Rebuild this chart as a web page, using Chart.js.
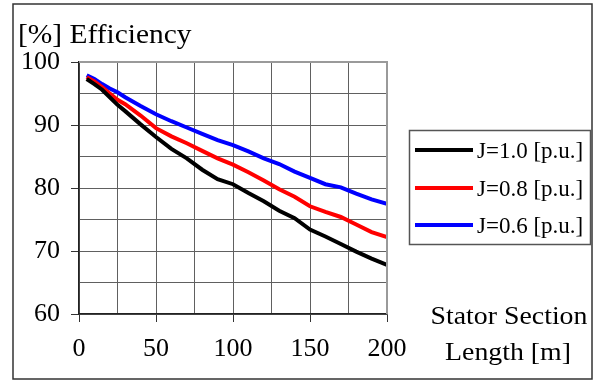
<!DOCTYPE html>
<html>
<head>
<meta charset="utf-8">
<script src="https://cdn.jsdelivr.net/npm/chart.js@4"></script>
<style>
  body { margin: 0; background: #fff; }
  #wrap { width: 595px; height: 381px; }
</style>
</head>
<body>
<div id="wrap"><canvas id="chart" width="595" height="381"></canvas></div>
<script>
// Stator section length [m]
const lengths = [5, 10, 15, 20, 25, 30, 40, 50, 60, 70, 80, 90, 100, 110, 120, 130, 140, 150, 160, 170, 180, 190, 200];

// Efficiency [%] per current density
const effJ10 = [97.3, 96.5, 95.6, 94.4, 93.2, 92.2, 90.1, 88.1, 86.2, 84.7, 82.9, 81.4, 80.6, 79.2, 77.9, 76.4, 75.2, 73.4, 72.3, 71.1, 69.9, 68.8, 67.8];
const effJ08 = [97.6, 96.9, 96.0, 95.0, 94.0, 93.3, 91.5, 89.5, 88.2, 87.1, 85.9, 84.7, 83.7, 82.5, 81.2, 79.8, 78.6, 77.1, 76.2, 75.4, 74.2, 73.0, 72.2];
const effJ06 = [97.9, 97.3, 96.5, 95.8, 95.2, 94.4, 93.0, 91.7, 90.6, 89.6, 88.6, 87.6, 86.8, 85.8, 84.7, 83.8, 82.6, 81.6, 80.6, 80.1, 79.1, 78.2, 77.5];

const seriesLabels = ['J=1.0 [p.u.]', 'J=0.8 [p.u.]', 'J=0.6 [p.u.]'];
const seriesColors = ['#000000', '#ff0000', '#0000ff'];

const FONT = "'Liberation Serif', 'Times New Roman', serif";

// Stretched text helper (the original text is a bit wide)
function drawText(ctx, text, x, y, size, sx, align) {
    ctx.save();
    ctx.font = size + 'px ' + FONT;
    ctx.fillStyle = '#000';
    ctx.textBaseline = 'alphabetic';
    let w = ctx.measureText(text).width * sx;
    let left = x;
    if (align === 'center') left = x - w / 2;
    ctx.translate(left, y);
    ctx.scale(sx, 1);
    ctx.fillText(text, 0, 0);
    ctx.restore();
}

// Frame, plot border, titles and legend
const decorPlugin = {
    id: 'decor',
    afterDraw(chart) {
        const ctx = chart.ctx;
        const area = chart.chartArea;

        ctx.save();
        // top and right plot edges
        ctx.strokeStyle = '#9a9a9a';
        ctx.lineWidth = 2;
        ctx.beginPath();
        ctx.moveTo(area.left, area.top);
        ctx.lineTo(area.right, area.top);
        ctx.lineTo(area.right, area.bottom);
        ctx.stroke();

        // outer frame
        ctx.strokeStyle = '#333';
        ctx.lineWidth = 1.5;
        ctx.strokeRect(13, 4, 579, 375);

        // legend box
        ctx.strokeStyle = '#555';
        ctx.lineWidth = 1.5;
        ctx.strokeRect(409.5, 130.5, 181, 114);
        const rowY = [150, 188, 225];
        chart.data.datasets.forEach((ds, i) => {
            ctx.strokeStyle = ds.borderColor;
            ctx.lineWidth = 4;
            ctx.beginPath();
            ctx.moveTo(415, rowY[i]);
            ctx.lineTo(473, rowY[i]);
            ctx.stroke();
            drawText(ctx, ds.label, 477, rowY[i] + 8, 23, 1.0, 'left');
        });
        ctx.restore();

        drawText(ctx, '[%] Efficiency', 18, 43, 27, 1.09, 'left');
        drawText(ctx, 'Stator Section', 509, 324, 26, 1.07, 'center');
        drawText(ctx, 'Length [m]', 508, 360, 26, 1.07, 'center');
    }
};

function makeData(values) {
    return lengths.map((x, i) => ({ x: x, y: values[i] }));
}

new Chart(document.getElementById('chart'), {
    type: 'line',
    data: {
        datasets: [effJ10, effJ08, effJ06].map((vals, i) => ({
            label: seriesLabels[i],
            data: makeData(vals),
            borderColor: seriesColors[i],
            backgroundColor: seriesColors[i],
            borderWidth: 4,
            pointRadius: 0,
            tension: 0,
            fill: false
        }))
    },
    options: {
        responsive: false,
        animation: false,
        layout: { padding: { left: 13, right: 208, top: 62, bottom: 17 } },
        plugins: {
            legend: { display: false },
            tooltip: { enabled: false }
        },
        scales: {
            x: {
                type: 'linear',
                min: 0,
                max: 200,
                afterFit: (s) => { s.height = 50; },
                border: { display: true, color: '#222', width: 1.5 },
                grid: {
                    color: '#606060',
                    lineWidth: 1,
                    tickLength: 8,
                    tickColor: (c) => (c.tick && c.tick.value % 50 === 0) ? '#333' : 'rgba(0,0,0,0)'
                },
                ticks: {
                    stepSize: 25,
                    autoSkip: false,
                    maxRotation: 0,
                    padding: 12,
                    color: '#000',
                    font: { family: FONT, size: 26 },
                    callback: (v) => v % 50 === 0 ? String(v) : ''
                }
            },
            y: {
                min: 60,
                max: 100,
                afterFit: (s) => { s.width = 66; },
                border: { display: true, color: '#222', width: 1.5 },
                grid: {
                    color: '#606060',
                    lineWidth: 1,
                    tickLength: 8,
                    tickColor: (c) => (c.tick && c.tick.value % 10 === 0) ? '#333' : 'rgba(0,0,0,0)'
                },
                ticks: {
                    stepSize: 5,
                    autoSkip: false,
                    padding: 11,
                    color: '#000',
                    font: { family: FONT, size: 26 },
                    callback: (v) => v % 10 === 0 ? String(v) : ''
                }
            }
        }
    },
    plugins: [decorPlugin]
});
</script>
</body>
</html>
